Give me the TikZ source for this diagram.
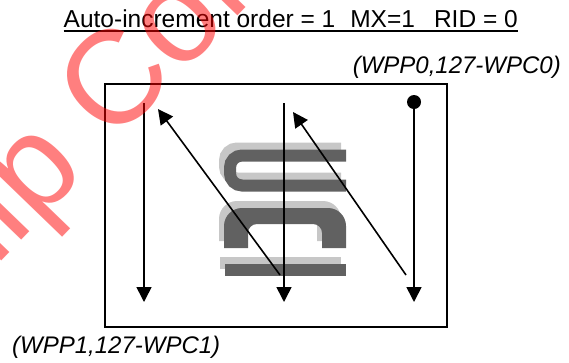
\documentclass[tikz,border=0pt]{standalone}
\usepackage{fontspec}
\setmainfont{Liberation Sans}
\usetikzlibrary{arrows.meta}

\begin{document}
\begin{tikzpicture}[x=1pt, y=-1pt, >={Triangle[length=15pt,width=15pt]},
    scan/.style={->, line width=1.6pt},
    lbl/.style={inner sep=0pt, font=\fontsize{24}{28}\selectfont},
    stamp/.style={inner sep=0pt, text=red, text opacity=0.5, font=\fontsize{133}{140}\selectfont}]
  \useasboundingbox (0,0) rectangle (569,362);
  \foreach \dx/\dy/\c in {-5/-7/black!22, 0/0/black!62} {
    \begin{scope}[shift={(\dx,\dy)}]
      \draw[\c, line width=12pt, rounded corners=12pt] (346,155.5) -- (230,155.5) -- (230,185.5) -- (346,185.5);
      \fill[\c] (224,248) [rounded corners=18pt] -- (224,208) -- (346,208) [sharp corners] -- (346,248) -- (322,248) [rounded corners=9pt] -- (322,224) -- (248,224) [sharp corners] -- (248,248) -- cycle;
      \fill[\c] (225,264) rectangle (346,276);
    \end{scope}
  }
  \node[lbl, anchor=base west, font=\fontsize{24.5}{28}\selectfont] (title) at (63.5,27) {Auto-increment order = 1\hspace{15pt}MX=1\hspace{19pt}RID = 0};
  \draw[line width=1.4pt] ([yshift=-4pt]title.base west) -- ([yshift=-4pt]title.base east);
  \node[lbl, anchor=base east, font=\fontsize{24}{28}\selectfont\itshape] (topcorner) at (561,73) {(WPP0,127-WPC0)};
  \node[lbl, anchor=base west, font=\fontsize{24}{28}\selectfont\itshape] (botcorner) at (12,353) {(WPP1,127-WPC1)};
  \draw[line width=1.4pt] (105,84) rectangle (447,327);
  \coordinate (a1s) at (144,103);
  \coordinate (a1e) at (144,302);
  \coordinate (a2s) at (280,275);
  \coordinate (a2e) at (158,109);
  \coordinate (a3s) at (284,103);
  \coordinate (a3e) at (284,302);
  \coordinate (a4s) at (406,275);
  \coordinate (a4e) at (293,112);
  \coordinate (a5e) at (414,302);
  \node[circle, fill, inner sep=0pt, minimum size=14pt] (start) at (414,102) {};
  \draw[scan] (a1s) -- (a1e);
  \draw[scan] (a2s) -- (a2e);
  \draw[scan] (a3s) -- (a3e);
  \draw[scan] (a4s) -- (a4e);
  \draw[scan] (start) -- (a5e);
  \node[stamp, anchor=base west, rotate=46] (chip) at (-102.7,368.5) {Chip Con};
\end{tikzpicture}
\end{document}
